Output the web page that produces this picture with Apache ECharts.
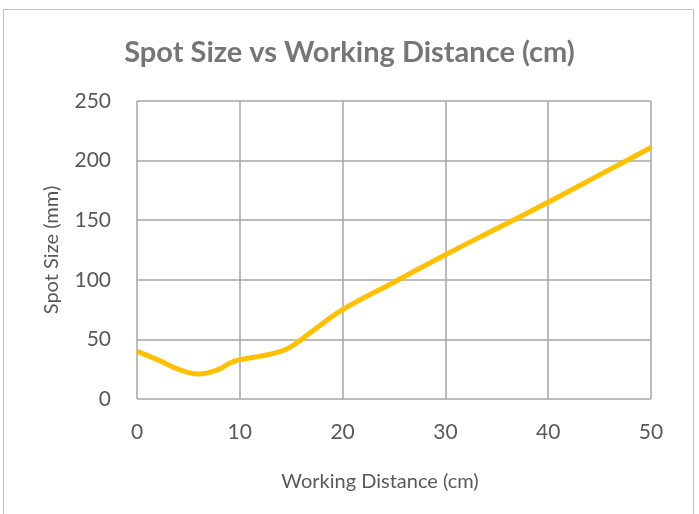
<!DOCTYPE html>
<html>
<head>
    <meta charset="utf-8">
    <title>Spot Size vs Working Distance</title>
    <script src="https://cdn.jsdelivr.net/npm/echarts@6/dist/echarts.min.js"></script>
    <style>
        html, body { margin: 0; padding: 0; background: #fff; }
    </style>
</head>
<body>
    <div id="chart" style="width: 699px; height: 514px;"></div>
    <script>
        // working distance (cm) and spot size (mm)
        var distance = [0, 2, 4, 6, 8, 9, 10, 12, 14, 15, 16, 18, 20, 25, 30, 35, 40, 45, 50];
        var spotSize = [40, 33, 25, 21, 25, 30, 33, 36, 40, 44, 50, 63, 75, 98, 121, 143, 165, 188, 211];

        var xTicks = [0, 10, 20, 30, 40, 50];
        var yTicks = [0, 50, 100, 150, 200, 250];

        var chart = echarts.init(document.getElementById('chart'));

        var font = 'Lato, Open Sans, sans-serif';

        chart.setOption({
            animation: false,
            title: {
                text: 'Spot Size vs Working Distance (cm)',
                left: 'center',
                top: 33,
                textStyle: {
                    fontFamily: font,
                    fontSize: 29,
                    fontWeight: 'bold',
                    color: '#767676'
                }
            },
            graphic: [{
                type: 'rect',
                shape: { x: 3.5, y: 9.5, width: 690, height: 510 },
                style: { fill: 'none', stroke: '#bfbfbf', lineWidth: 1 },
                silent: true
            }],
            grid: { left: 137, right: 48, top: 101, bottom: 115 },
            xAxis: {
                type: 'value',
                min: xTicks[0],
                max: xTicks[xTicks.length - 1],
                interval: 10,
                name: 'Working Distance (cm)',
                nameLocation: 'middle',
                nameGap: 73,
                nameTextStyle: { fontFamily: font, fontSize: 20, color: '#595959', padding: [0, 28, 0, 0] },
                axisLine: { show: false },
                axisTick: { show: false },
                axisLabel: { fontFamily: font, fontSize: 21, color: '#595959', margin: 23 },
                splitLine: { show: true, lineStyle: { color: '#a6a6a6', width: 1.5 } }
            },
            yAxis: {
                type: 'value',
                min: yTicks[0],
                max: yTicks[yTicks.length - 1],
                interval: 50,
                name: 'Spot Size (mm)',
                nameLocation: 'middle',
                nameGap: 75,
                nameTextStyle: { fontFamily: font, fontSize: 20, color: '#595959' },
                axisLine: { show: false },
                axisTick: { show: false },
                axisLabel: { fontFamily: font, fontSize: 21, color: '#595959', margin: 26 },
                splitLine: { show: true, lineStyle: { color: '#a6a6a6', width: 1.5 } }
            },
            series: [{
                type: 'line',
                data: distance.map(function (d, i) { return [d, spotSize[i]]; }),
                smooth: 0.4,
                showSymbol: false,
                lineStyle: { color: '#ffc000', width: 5 },
                itemStyle: { color: '#ffc000' }
            }]
        });
    </script>
</body>
</html>
